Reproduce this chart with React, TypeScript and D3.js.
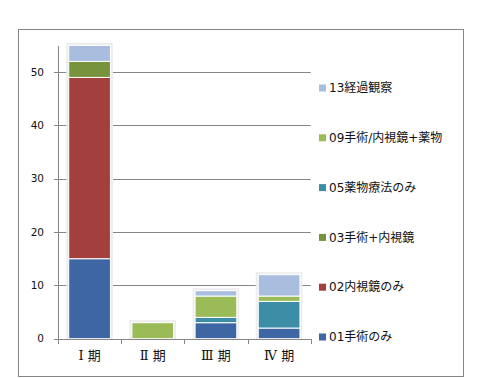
import React from "react";
import * as d3 from "d3";

const categories = ["Ⅰ 期", "Ⅱ 期", "Ⅲ 期", "Ⅳ 期"];
const seriesNames = ["01手術のみ", "02内視鏡のみ", "03手術+内視鏡", "05薬物療法のみ", "09手術/内視鏡+薬物", "13経過観察"];
const s01 = [15, 0, 3, 2];
const s02 = [34, 0, 0, 0];
const s03 = [3, 0, 0, 0];
const s05 = [0, 0, 1, 5];
const s09 = [0, 3, 4, 1];
const s13 = [3, 0, 1, 4];
const yTicks = [0, 10, 20, 30, 40, 50];
const colors = ["#3e66a2", "#a33f3d", "#77933c", "#3b8ea5", "#9bbb59", "#a9bddf"];

const W = 491, H = 378;

export default function App() {
  const values = [s01, s02, s03, s05, s09, s13];
  const rows = categories.map((c, i) => {
    const r: any = { cat: c };
    seriesNames.forEach((s, k) => (r[s] = values[k][i]));
    return r;
  });
  const stack = d3.stack<any>().keys(seriesNames)(rows);
  const x = d3.scaleBand().domain(categories).range([58, 310.7]).paddingInner(0.34).paddingOuter(0.17);
  const y = d3.scaleLinear().domain([0, 55]).range([338.7, 45.4]);
  const step = x.step();
  const bounds = d3.range(categories.length + 1).map(i => 58 + i * step);
  const totals = categories.map((_, i) => d3.sum(values, v => v[i]));
  const legendY = (k: number) => 337 - k * 49.8;
  const axisColor = "#868686";
  return (
    <svg width={W} height={H} style={{ position: "absolute", left: 0, top: 0 }}>
      <rect x={0} y={0} width={W} height={H} fill="#fff" />
      <rect x={18.5} y={29.5} width={445} height={347} fill="none" stroke={axisColor} strokeWidth={1} />
      {yTicks.filter(t => t > 0).map(t => (
        <line key={t} x1={58} x2={310.7} y1={Math.round(y(t)) + 0.5} y2={Math.round(y(t)) + 0.5} stroke={axisColor} />
      ))}
      {/* bar shadows */}
      {categories.map((c, i) => (
        <rect key={c} x={x(c)! - 1.5} y={y(totals[i]) - 1.5} width={x.bandwidth() + 3} height={y(0) - y(totals[i]) + 1.5}
          fill="none" stroke="#ededed" strokeWidth={2} />
      ))}
      {stack.map((layer, k) => (
        <g key={layer.key} fill={colors[k]}>
          {layer.map((d, i) => d[1] - d[0] > 0 ? (
            <rect key={i} x={x(categories[i])!} y={y(d[1])} width={x.bandwidth()} height={y(d[0]) - y(d[1])}
              stroke="#fff" strokeWidth={1} />
          ) : null)}
        </g>
      ))}
      {/* axes */}
      <line x1={58.5} x2={58.5} y1={46} y2={Math.round(y(0)) + 0.5} stroke={axisColor} />
      <line x1={54} x2={310.7} y1={Math.round(y(0)) + 0.5} y2={Math.round(y(0)) + 0.5} stroke={axisColor} />
      {yTicks.map(t => (
        <g key={t}>
          <line x1={54} x2={58.5} y1={Math.round(y(t)) + 0.5} y2={Math.round(y(t)) + 0.5} stroke={axisColor} />
          <text x={44} y={y(t)} dy="0.35em" textAnchor="end" fontFamily="DejaVu Sans" fontSize={10.5} fill="#111">{t}</text>
        </g>
      ))}
      {bounds.map((b, i) => (
        <line key={i} x1={Math.round(b) + 0.5} x2={Math.round(b) + 0.5} y1={Math.round(y(0))} y2={Math.round(y(0)) + 5} stroke={axisColor} />
      ))}
      {categories.map(c => (
        <text key={c} x={x(c)! + x.bandwidth() / 2} y={355} dy="0.35em" textAnchor="middle"
          fontFamily="'DejaVu Serif', 'Noto Sans CJK JP'" fontSize={13} fill="#111">{c}</text>
      ))}
      {/* legend */}
      {seriesNames.map((s, k) => (
        <g key={s}>
          <rect x={319} y={legendY(k) - 3.5} width={7} height={7} fill={colors[k]} />
          <text x={329} y={legendY(k)} dy="0.35em" fontFamily="'DejaVu Sans', 'Noto Sans CJK JP'" fontSize={12} fill="#111">{s}</text>
        </g>
      ))}
    </svg>
  );
}
